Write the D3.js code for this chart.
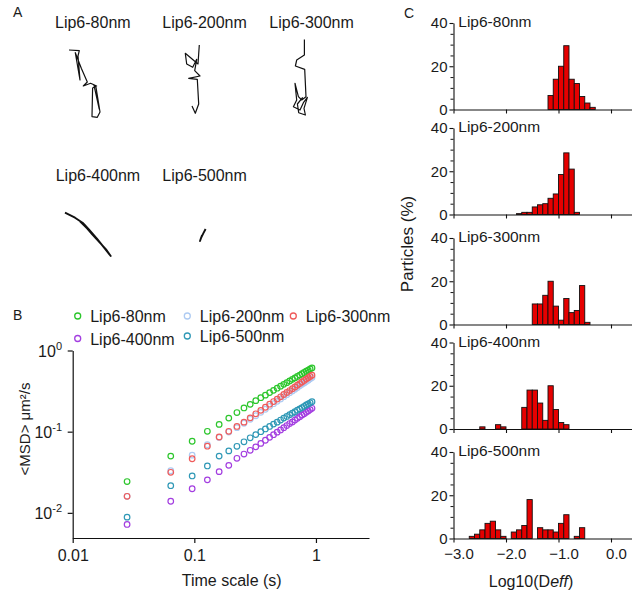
<!DOCTYPE html>
<html><head><meta charset="utf-8">
<script src="https://cdn.jsdelivr.net/npm/d3@7"></script>
<style>
body{margin:0;background:#fff}
svg{display:block}
text{font-family:"Liberation Sans",Arial,Helvetica,sans-serif;fill:#1a1a1a}
</style>
</head><body>
<svg id="chart" width="632" height="598"></svg>
<script>
// ---------------- DATA ----------------
// Panel A: trajectories (µm, relative to each track's own origin)
const trajLabels = ["Lip6-80nm","Lip6-200nm","Lip6-300nm","Lip6-400nm","Lip6-500nm"];
const traj80 = [[0.07,0.07],[1.10,0.13],[0.97,0.67],[1.17,3.07],[0.70,0.33],[1.30,1.90],[1.90,3.27],[1.50,3.67],[2.23,3.40],[2.83,3.67],[2.43,3.87],[2.37,6.73],[2.90,6.80],[3.17,6.27],[2.77,3.80],[2.57,3.60],[3.10,6.00]];
const traj200 = [[1.43,0.07],[1.30,1.97],[0.03,0.90],[0.17,1.97],[0.77,2.30],[1.17,1.50],[0.97,2.63],[1.50,3.17],[0.37,3.40],[1.23,3.50],[1.37,5.97],[1.03,6.90],[0.70,6.17]];
const traj300 = [[1.17,0.07],[1.17,1.63],[0.40,2.13],[0.27,2.73],[1.20,3.07],[1.33,5.80],[0.90,6.13],[0.57,5.80],[0.23,4.47],[0.40,6.13],[0.07,6.80],[0.73,7.13],[1.07,6.40],[1.47,5.87],[1.13,6.97],[1.27,7.63],[0.60,7.40],[0.47,6.53],[1.00,5.87]];
const traj400 = [[0.00,0.07],[1.00,0.57],[1.83,1.13],[2.43,1.80],[3.17,2.63],[3.83,3.47],[4.57,4.40],[4.10,3.73],[3.30,2.87],[2.70,2.20],[2.23,1.67],[1.50,0.93]];
const traj500 = [[0.63,0.03],[0.40,0.47],[0.17,0.93],[0.07,1.23],[0.27,0.67]];

// Panel B: MSD vs time lag
const seriesNames = ["Lip6-80nm","Lip6-200nm","Lip6-300nm","Lip6-400nm","Lip6-500nm"];
const tLag = [0.028,0.064,0.096,0.128,0.160,0.192,0.224,0.256,0.288,0.320,0.352,0.384,0.416,0.448,0.480,0.512,0.544,0.576,0.608,0.640,0.672,0.704,0.736,0.768,0.800,0.832,0.864,0.896,0.928];
const msd80  = [0.0243,0.050,0.0762,0.101,0.123,0.147,0.172,0.196,0.217,0.241,0.262,0.282,0.303,0.323,0.343,0.363,0.383,0.402,0.422,0.441,0.460,0.479,0.498,0.517,0.536,0.555,0.573,0.592,0.610];
const msd200 = [0.0160,0.033,0.0514,0.069,0.085,0.099,0.112,0.127,0.142,0.157,0.173,0.189,0.205,0.221,0.237,0.253,0.270,0.286,0.302,0.318,0.334,0.350,0.367,0.383,0.399,0.415,0.431,0.448,0.464];
const msd300 = [0.0160,0.0316,0.0464,0.0662,0.086,0.101,0.116,0.131,0.148,0.166,0.183,0.200,0.218,0.235,0.252,0.269,0.287,0.304,0.321,0.339,0.356,0.374,0.391,0.409,0.427,0.444,0.462,0.480,0.497];
const msd400 = [0.0072,0.0139,0.0198,0.0255,0.0322,0.0385,0.047,0.053,0.059,0.065,0.0717,0.0784,0.0851,0.0918,0.0986,0.105,0.112,0.119,0.126,0.132,0.139,0.146,0.153,0.160,0.166,0.173,0.180,0.187,0.194];
const msd500 = [0.00885,0.0216,0.0285,0.0378,0.050,0.058,0.066,0.075,0.084,0.092,0.100,0.108,0.116,0.124,0.131,0.139,0.147,0.154,0.162,0.169,0.176,0.184,0.191,0.198,0.205,0.213,0.220,0.227,0.234];
const seriesColors = ["#2cc62c","#aecbf2","#ef5b5b","#a33ee0","#2f98b6"];
const xTicksB = [0.01,0.1,1];
const xTickLabelsB = ["0.01","0.1","1"];
const yTicksB = [1,0.1,0.01];
const yTickExpB = ["0","-1","-2"];

// Panel C: Log10(Deff) histograms (bin left edge, % of particles), bin width 0.1
const histBinWidth = 0.1;
const h80Edges  = [-1.2,-1.1,-1.0,-0.9,-0.8,-0.7,-0.6,-0.5,-0.4];
const h80       = [6.5,14,20,29.5,14,12,6,3,1];
const h200Edges = [-1.8,-1.7,-1.6,-1.5,-1.4,-1.3,-1.2,-1.1,-1.0,-0.9,-0.8,-0.7];
const h200      = [0.4,1,1,3.5,4.5,5,7.5,9.5,18.5,28.5,21,1];
const h300Edges = [-1.5,-1.4,-1.3,-1.2,-1.1,-1.0,-0.9,-0.8,-0.7,-0.6,-0.5];
const h300      = [9.5,9.5,13.5,20,8.5,2,12,5.5,6.5,18,1];
const h400Edges = [-2.5,-2.2,-2.1,-1.7,-1.6,-1.5,-1.4,-1.3,-1.2,-1.1,-1.0,-0.9];
const h400      = [1,2,1,10,18,18,12,4,20,9,3,2];
const h500Edges = [-2.7,-2.6,-2.5,-2.4,-2.3,-2.2,-2.1,-1.9,-1.8,-1.7,-1.6,-1.4,-1.3,-1.2,-1.1,-1.0,-0.9,-0.7,-0.6];
const h500      = [1,2,4,7,8,4,1,3,4,6,18,5,4,4,3,7,11,1,5];
const histYTicks = [0,20,40];
const histYMinor = [5,10,15,25,30,35];
const histXTicks = [-3,-2,-1,0];

// ---------------- DRAW ----------------
const svg = d3.select("#chart");
const font = '"Liberation Sans",Arial,Helvetica,sans-serif';

// Panel letters
[["A",13,17],["B",13,320],["C",404,18]].forEach(([t,x,y])=>{
  svg.append("text").attr("x",x).attr("y",y).attr("font-size",14).text(t);
});

// ---- Panel A ----
const trajs = [traj80,traj200,traj300,traj400,traj500];
const trajTitlePos = [[55,27.5],[162.3,27.5],[269.3,27.5],[55.7,181],[162.3,181]];
const trajOrigin = [[68.3,49.3],[185,44.3],[292.7,38.7],[65,212],[199.3,228.7]];
const trajWidth = [1.2,1.2,1.2,1.9,1.9];
const tScale = d3.scaleLinear().domain([0,1]).range([0,10]);
const lineGen = d3.line().x(d=>tScale(d[0])).y(d=>tScale(d[1]));
trajs.forEach((tr,i)=>{
  svg.append("text").attr("x",trajTitlePos[i][0]).attr("y",trajTitlePos[i][1])
     .attr("font-size",16).text(trajLabels[i]);
  svg.append("g").attr("transform",`translate(${trajOrigin[i][0]},${trajOrigin[i][1]})`)
     .append("path").datum(tr).attr("d",lineGen)
     .attr("fill","none").attr("stroke","#111").attr("stroke-width",trajWidth[i])
     .attr("stroke-linejoin","round");
});

// ---- Panel B ----
const xB = d3.scaleLog().domain([0.01,2.73]).range([72.7,369]);
const yB = d3.scaleLog().domain([0.0049,1]).range([538,350.5]);
const gB = svg.append("g");
gB.append("g").attr("transform","translate(0,538)")
  .call(d3.axisBottom(xB).tickValues(xTicksB).tickSize(5).tickSizeOuter(0).tickFormat((d,i)=>xTickLabelsB[i]))
  .call(g=>{g.selectAll("path,line").attr("stroke","#111").attr("stroke-width",1.2);
            g.selectAll("text").attr("font-size",16).attr("font-family",font).attr("fill","#1a1a1a").attr("dy","0.95em");});
const yAx = gB.append("g").attr("transform","translate(72.7,0)")
  .call(d3.axisLeft(yB).tickValues(yTicksB).tickSize(5).tickSizeOuter(0).tickFormat(""))
  .call(g=>g.selectAll("path,line").attr("stroke","#111").attr("stroke-width",1.2));
yTicksB.forEach((v,i)=>{
  const t = gB.append("text").attr("x",62).attr("y",yB(v)+6).attr("text-anchor","end").attr("font-size",16);
  t.append("tspan").text("10");
  t.append("tspan").attr("font-size",11).attr("dy",-7).text(yTickExpB[i]);
});
gB.append("text").attr("transform","translate(30,429) rotate(-90)").attr("text-anchor","middle")
  .attr("font-size",15).text("<MSD> μm²/s");
gB.append("text").attr("x",231.7).attr("y",586).attr("text-anchor","middle").attr("font-size",16).text("Time scale (s)");

const msdAll = [msd80,msd200,msd300,msd400,msd500];
msdAll.forEach((s,i)=>{
  gB.append("g").selectAll("circle").data(tLag.map((t,j)=>[t,s[j]])).join("circle")
    .attr("cx",d=>xB(d[0])).attr("cy",d=>yB(d[1])).attr("r",2.8)
    .attr("fill","none").attr("stroke",seriesColors[i]).attr("stroke-width",1.2);
});
// legend
const legPos = [[77.7,316],[187.3,316],[293.3,316],[77.7,338.5],[187.3,336]];
seriesNames.forEach((n,i)=>{
  gB.append("circle").attr("cx",legPos[i][0]).attr("cy",legPos[i][1]).attr("r",3)
    .attr("fill","none").attr("stroke",seriesColors[i]).attr("stroke-width",1.3);
  gB.append("text").attr("x",legPos[i][0]+12.5).attr("y",legPos[i][1]+6).attr("font-size",16).text(n);
});

// ---- Panel C ----
const xC = d3.scaleLinear().domain([-3,0.4]).range([453.5,632]);
const histEdges = [h80Edges,h200Edges,h300Edges,h400Edges,h500Edges];
const histVals = [h80,h200,h300,h400,h500];
const panelBase = [109.5,214.5,324.5,429,538.5];
const panelH = 86.5;
histVals.forEach((vals,p)=>{
  const yC = d3.scaleLinear().domain([0,40]).range([panelBase[p],panelBase[p]-panelH]);
  const g = svg.append("g");
  g.selectAll("rect").data(vals.map((v,j)=>[histEdges[p][j],v])).join("rect")
    .attr("x",d=>xC(d[0])).attr("width",d=>xC(d[0]+histBinWidth)-xC(d[0]))
    .attr("y",d=>yC(d[1])).attr("height",d=>yC(0)-yC(d[1]))
    .attr("fill","#e60000").attr("stroke","#111").attr("stroke-width",0.9);
  // y axis
  g.append("g").attr("transform",`translate(${xC(-3)},0)`)
    .call(d3.axisLeft(yC).tickValues(histYTicks).tickSize(4).tickSizeOuter(0).tickPadding(2))
    .call(a=>{a.selectAll("path,line").attr("stroke","#111").attr("stroke-width",1.1);
              a.selectAll("text").attr("font-size",15).attr("font-family",font).attr("fill","#1a1a1a");});
  g.append("g").attr("transform",`translate(${xC(-3)},0)`)
    .call(d3.axisLeft(yC).tickValues(histYMinor).tickSize(3).tickFormat(""))
    .call(a=>{a.select("path").remove(); a.selectAll("line").attr("stroke","#111").attr("stroke-width",1);});
  // x axis
  const isLast = p===histVals.length-1;
  g.append("g").attr("transform",`translate(0,${panelBase[p]})`)
    .call(d3.axisBottom(xC).tickValues(histXTicks).tickSize(4).tickSizeOuter(0)
          .tickFormat(isLast? d3.format(".1f") : ""))
    .call(a=>{a.selectAll("path,line").attr("stroke","#111").attr("stroke-width",1.1);
              a.selectAll("text").attr("font-size",15).attr("font-family",font).attr("fill","#1a1a1a")
               .attr("dx",5).attr("dy","0.9em");});
  g.append("text").attr("x",458.3).attr("y",yC(40)+4).attr("font-size",15.5).text(trajLabels[p]);
});
svg.append("text").attr("transform","translate(413,244) rotate(-90)").attr("text-anchor","middle")
  .attr("font-size",17).text("Particles (%)");
const xl = svg.append("text").attr("x",531).attr("y",587).attr("text-anchor","middle").attr("font-size",16);
xl.append("tspan").text("Log10(D");
xl.append("tspan").attr("font-style","italic").text("eff");
xl.append("tspan").text(")");
</script>
</body></html>
